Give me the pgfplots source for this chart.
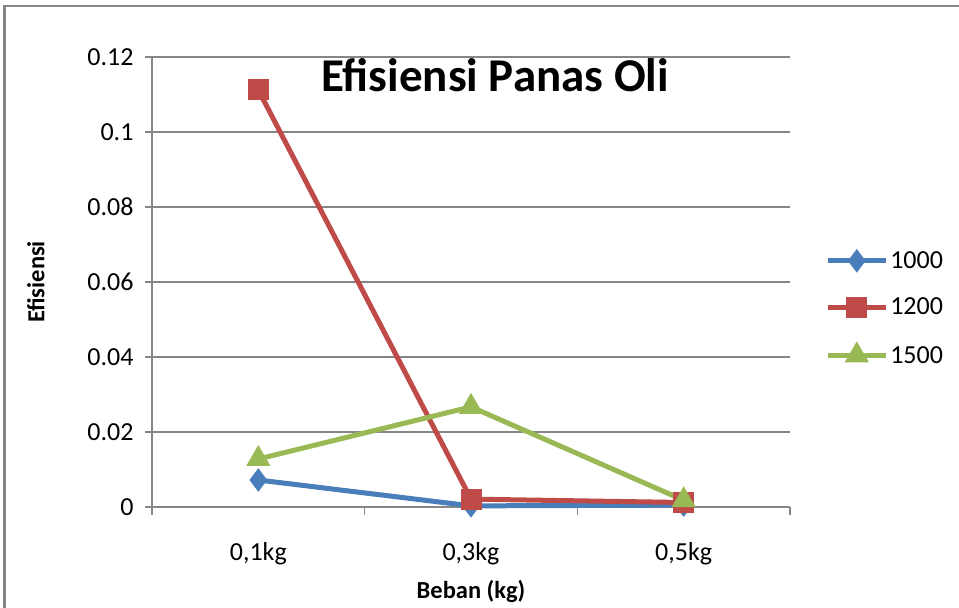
\documentclass[border=0pt]{standalone}
\usepackage{pgfplots}
\pgfplotsset{compat=1.18}
\usepackage{fontspec}
\setmainfont{Carlito}
\definecolor{c1}{HTML}{4A7EBB}
\definecolor{c2}{HTML}{BE4B48}
\definecolor{c3}{HTML}{98B954}
\definecolor{gr}{HTML}{868686}
\begin{document}
\begin{tikzpicture}
\useasboundingbox (0pt,0pt) rectangle (959pt,608pt);
\draw[gr, line width=2.5pt] (4.5pt,-5pt) -- (4.5pt,602pt) -- (965pt,602pt);
\begin{axis}[
  at={(152pt,101pt)}, anchor=south west,
  scale only axis, width=638pt, height=450pt,
  xmin=-0.5, xmax=2.5, ymin=0, ymax=0.12,
  axis lines*=left,
  axis line style={gr, line width=1.5pt},
  xtick={0,1,2},
  xticklabels={{0,1kg},{0,3kg},{0,5kg}},
  minor xtick={-0.5,0.5,1.5,2.5},
  every major x tick/.style={draw=none},
  every minor x tick/.style={gr, line width=1.5pt},
  minor tick length=8pt,
  major tick length=7pt,
  tick align=outside,
  ytick={0,0.02,0.04,0.06,0.08,0.1,0.12},
  yticklabels={0,0.02,0.04,0.06,0.08,0.1,0.12},
  ytick style={gr, line width=1.5pt},
  ymajorgrids, grid style={gr, line width=1.5pt},
  tick label style={font=\fontsize{26}{30}\selectfont},
  xticklabel style={yshift=-25pt},
  yticklabel style={xshift=-8pt},
  xlabel={Beban (kg)},
  ylabel={Efisiensi},
  label style={font=\fontsize{24.5}{28}\selectfont\bfseries},
  xlabel style={yshift=-8pt},
  ylabel style={yshift=36pt},
  legend style={at={(1.055,0.442)}, anchor=west, draw=none, fill=none,
    font=\fontsize{26}{30}\selectfont, row sep=24pt, inner sep=0pt},
  legend cell align=left,
  legend image code/.code={
    \draw[mark repeat=2,mark phase=2,#1] plot coordinates {(0pt,0pt) (29pt,0pt) (58pt,0pt)};},
  clip=false,
]
\addplot[c1, line width=5pt, mark=diamond*, mark size=11pt, mark options={solid, fill=c1, line width=1pt}]
  coordinates {(0,0.0072) (1,0.0003) (2,0.0005)};
\addlegendentry{1000}
\addplot[c2, line width=5pt, mark=square*, mark size=10pt, mark options={solid, fill=c2, line width=1pt}]
  coordinates {(0,0.1112) (1,0.0021) (2,0.0012)};
\addlegendentry{1200}
\addplot[c3, line width=5pt, mark=triangle*, mark size=13pt, mark options={solid, fill=c3, line width=1pt}]
  coordinates {(0,0.0128) (1,0.0267) (2,0.0018)};
\addlegendentry{1500}
\node[font=\fontsize{47}{50}\selectfont\bfseries] at (axis cs:1.113,0.1152) {Efisiensi Panas Oli};
\end{axis}
\end{tikzpicture}
\end{document}
